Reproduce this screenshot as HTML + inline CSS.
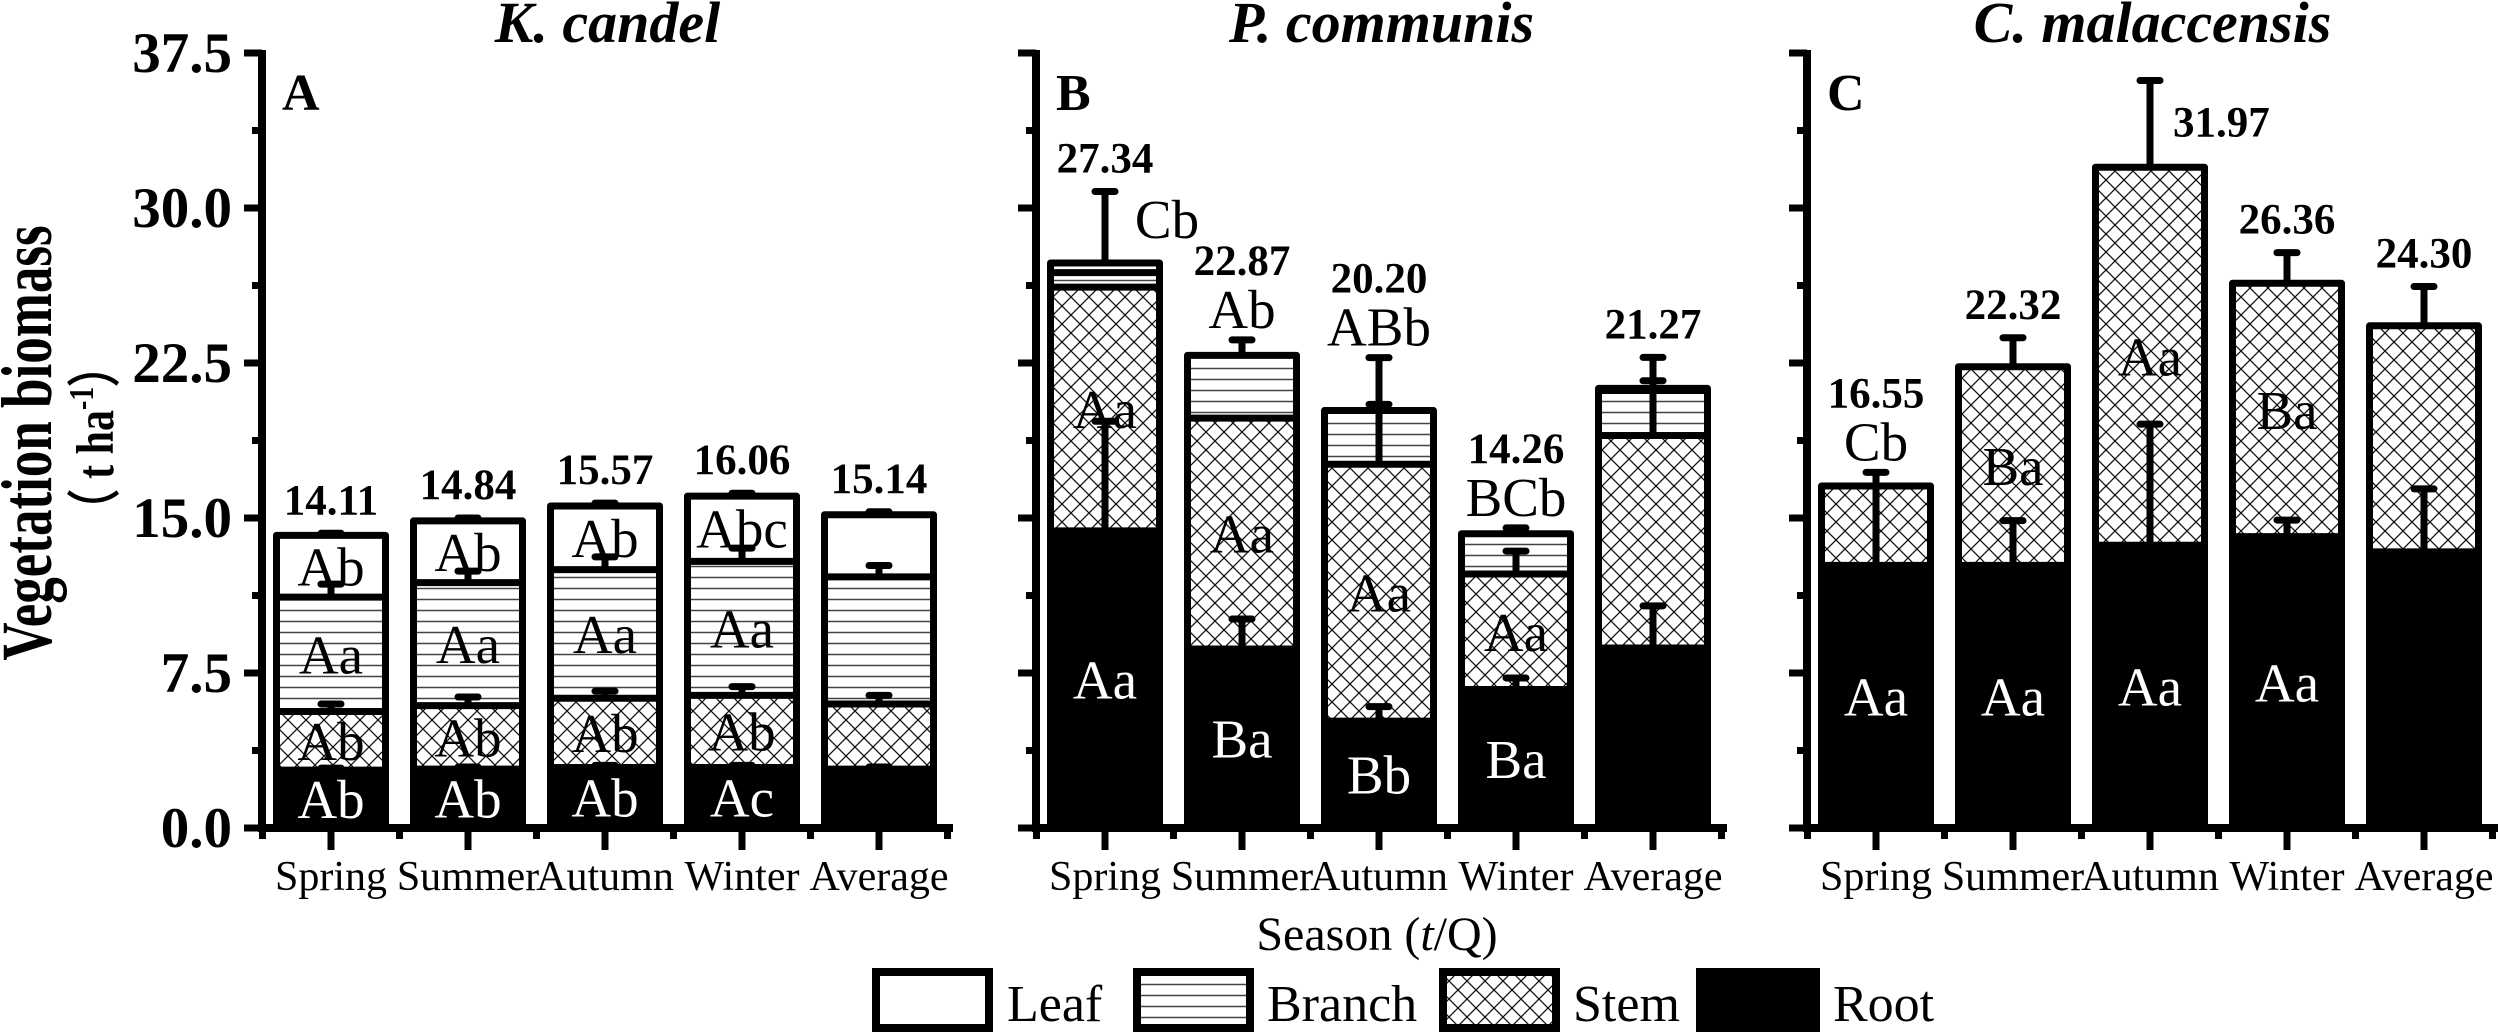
<!DOCTYPE html>
<html><head><meta charset="utf-8">
<style>
html,body{margin:0;padding:0;background:#fff;}
svg{display:block;}
text{font-family:"Liberation Serif",serif;}
</style></head>
<body>
<svg id="chart" width="2500" height="1036" viewBox="0 0 2500 1036" xmlns="http://www.w3.org/2000/svg">
<defs>
<pattern id="patBranch" patternUnits="userSpaceOnUse" width="20" height="11">
<rect width="20" height="11" fill="#fff"/>
<line x1="0" y1="5.5" x2="20" y2="5.5" stroke="#444" stroke-width="1.6"/>
</pattern>
<pattern id="patStem" patternUnits="userSpaceOnUse" width="18" height="18">
<rect width="18" height="18" fill="#fff"/>
<path d="M0,0 L18,18 M18,0 L0,18" stroke="#111" stroke-width="1.3"/>
</pattern>
</defs>
<g id="plot"></g>
</svg>
<script>
// ---- data ----
const categories = ["Spring","Summer","Autumn","Winter","Average"];
const panelTitles = ["K. candel","P. communis","C. malaccensis"];
const panelLetters = ["A","B","C"];
const yTickLabels = ["0.0","7.5","15.0","22.5","30.0","37.5"];
const yTickValues = [0,7.5,15,22.5,30,37.5];
const totalsText = [
  ["14.11","14.84","15.57","16.06","15.14"],
  ["27.34","22.87","20.20","14.26","21.27"],
  ["16.55","22.32","31.97","26.36","24.30"]
];
// segment amounts (t/ha)
const rootA = [2.8,2.85,2.93,2.93,2.85];
const stemA = [2.84,3.07,3.35,3.49,3.15];
const branchA = [5.53,5.95,6.22,6.48,6.15];
const leafA = [2.99,2.99,3.08,3.16,3.01];
const rootB = [14.38,8.66,5.17,6.7,8.71];
const stemB = [11.79,11.17,12.43,5.59,10.28];
const branchB = [0.7,3.04,2.6,1.95,2.18];
const leafB = [0.47,0,0,0,0.1];
const rootC = [12.71,12.71,13.68,14.1,13.36];
const stemC = [3.84,9.61,18.29,12.26,10.94];
const branchC = [0,0,0,0,0];
const leafC = [0,0,0,0,0];
// error bars (added above each segment top)
const errRootA = [0.1,0.1,0.1,0.1,0.1];
const errStemA = [0.36,0.42,0.34,0.42,0.42];
const errBranchA = [0.63,0.56,0.62,0.64,0.55];
const errLeafA = [0.1,0.14,0.14,0.14,0.14];
const errRootB = [5.3,1.45,0.7,0.56,2.04];
const errStemB = [0,0,2.9,1.11,2.65];
const errBranchB = [0,0,0,0,0];
const errLeafB = [3.46,0.75,2.56,0.28,1.5];
const errRootC = [4.5,2.16,5.86,0.8,3.05];
const errStemC = [0,1.4,4.2,1.48,1.9];
const errBranchC = [0,0,0,0,0];
const errLeafC = [0,0,0,0,0];
// significance letters
const rootLetters = [["Ab","Ab","Ab","Ac",""],["Aa","Ba","Bb","Ba",""],["Aa","Aa","Aa","Aa",""]];
const stemLetters = [["Ab","Ab","Ab","Ab",""],["Aa","Aa","Aa","Aa",""],["","Ba","Aa","Ba",""]];
const branchLetters = [["Aa","Aa","Aa","Aa",""],["","","","",""],["","","","",""]];
const leafLetters = [["Ab","Ab","Ab","Abc",""],["","","","",""],["","","","",""]];
const topLetters = [["","","","",""],["Cb","Ab","ABb","BCb",""],["Cb","","","",""]];

const panels = [
  {root:rootA,stem:stemA,branch:branchA,leaf:leafA,eR:errRootA,eS:errStemA,eB:errBranchA,eL:errLeafA},
  {root:rootB,stem:stemB,branch:branchB,leaf:leafB,eR:errRootB,eS:errStemB,eB:errBranchB,eL:errLeafB},
  {root:rootC,stem:stemC,branch:branchC,leaf:leafC,eR:errRootC,eS:errStemC,eB:errBranchC,eL:errLeafC}
];
// ---- layout ----
const axisX = [262,1036,1807];
const Y0 = 828, YMAX = 37.5, PXU = (828-53)/37.5;
const PITCH = 137, BARW = 109;
function yS(v){ return Y0 - v*PXU; }
function xS(p,i){ return axisX[p] + 69 + i*PITCH; }

const NS = "http://www.w3.org/2000/svg";
const root = document.getElementById('plot');
function mk(tag, attrs, parent){
  const e = document.createElementNS(NS, tag);
  for (const k in attrs) e.setAttribute(k, attrs[k]);
  (parent||root).appendChild(e);
  return e;
}
function txt(str, attrs, parent){
  const e = mk('text', attrs, parent);
  e.textContent = str;
  return e;
}

for (let p=0;p<3;p++){
  const g = mk('g',{});
  
  
  const ax = axisX[p];
  const xEnd = ax + 691;
  const t = txt(panelTitles[p],{x:(ax+xEnd)/2,y:42,'text-anchor':'middle','font-size':58,'font-weight':'bold','font-style':'italic'},g);
  
  
  const pl = txt(panelLetters[p],{x:ax+20,y:110,'font-size':52,'font-weight':'bold'},g);
  
  

  const d = panels[p];
  for (let i=0;i<categories.length;i++){
    const bg = mk('g',{},g);
    
    
    const cx = xS(p,i);
    const x0 = cx - BARW/2;
    const segs = [
      {v:d.root[i],fill:'#000',name:'root',err:d.eR[i],lab:rootLetters[p][i],col:'#fff'},
      {v:d.stem[i],fill:'url(#patStem)',name:'stem',err:d.eS[i],lab:stemLetters[p][i],col:'#000'},
      {v:d.branch[i],fill:'url(#patBranch)',name:'branch',err:d.eB[i],lab:branchLetters[p][i],col:'#000'},
      {v:d.leaf[i],fill:'#fff',name:'leaf',err:d.eL[i],lab:leafLetters[p][i],col:'#000'}
    ];
    let cum = 0;
    const tops = [];
    for (const s of segs){
      const b = cum, tp = cum + s.v;
      tops.push(tp);
      if (s.v > 0){
        const r = mk('rect',{x:x0,y:yS(tp),width:BARW,height:yS(b)-yS(tp),fill:s.fill},bg);
        
        
        if (s.name!=='root' && b>0){
          mk('line',{x1:x0,x2:x0+BARW,y1:yS(b),y2:yS(b),stroke:'#000','stroke-width':7},bg);
        }
      }
      cum = tp;
    }
    const total = cum;
    const outline = mk('rect',{x:x0,y:yS(total),width:BARW,height:Y0-yS(total),fill:'none',stroke:'#000','stroke-width':7,'stroke-linejoin':'round'},bg);
    
    
    cum = 0;
    for (const s of segs){
      if (s.lab && s.v>0){
        const my = yS(cum + s.v/2);
        const l = txt(s.lab,{x:cx,y:my+19,'text-anchor':'middle','font-size':55,fill:s.col},bg);
        
        
      }
      cum += s.v;
    }
    let capTop = total;
    for (let k=0;k<4;k++){
      const s = segs[k];
      if (s.err>0){
        const top = tops[k] + s.err;
        const eg = mk('g',{},bg);
        
        
        mk('line',{x1:cx,x2:cx,y1:yS(tops[k]),y2:yS(top),stroke:'#000','stroke-width':7},eg);
        mk('line',{x1:cx-10,x2:cx+10,y1:yS(top),y2:yS(top),stroke:'#000','stroke-width':7,'stroke-linecap':'round'},eg);
        if (top>capTop) capTop = top;
      }
    }
    const tl = topLetters[p][i];
    let numY = yS(capTop) - 19;
    let numX = cx, anchor='middle';
    if (tl){
      if (p===1 && i===0){
        const lt = txt(tl,{x:cx+62,y:yS(total)-25,'text-anchor':'middle','font-size':55},bg);
        
        
      } else {
        const lb = yS(capTop) - 12;
        const lt = txt(tl,{x:cx,y:lb,'text-anchor':'middle','font-size':55},bg);
        
        
        numY = lb - 53;
      }
    }
    if (p===2 && i===2){ numX = cx+23; anchor='start'; numY = yS(total)-31; }
    const nt = txt(totalsText[p][i],{x:numX,y:numY,'text-anchor':anchor,'font-size':43,'font-weight':'bold'},bg);
    
    
  }

  const ya = mk('line',{x1:ax,x2:ax,y1:yS(YMAX)-3,y2:Y0+4,stroke:'#000','stroke-width':8},g);
  
  
  const xa = mk('line',{x1:ax-4,x2:xEnd,y1:Y0,y2:Y0,stroke:'#000','stroke-width':8},g);
  
  
  for (let k=0;k<yTickValues.length;k++){
    const yy = yS(yTickValues[k]);
    mk('line',{x1:ax-18,x2:ax,y1:yy,y2:yy,stroke:'#000','stroke-width':7},g);
    if (k<yTickValues.length-1){
      const ym = yS((yTickValues[k]+yTickValues[k+1])/2);
      mk('line',{x1:ax-10,x2:ax,y1:ym,y2:ym,stroke:'#000','stroke-width':7},g);
    }
    if (p===0){
      const tk = txt(yTickLabels[k],{x:232,y:yy+19,'text-anchor':'end','font-size':57,'font-weight':'bold'},g);
      
      
    }
  }
  for (let i=0;i<categories.length;i++){
    const cx = xS(p,i);
    mk('line',{x1:cx,x2:cx,y1:Y0,y2:Y0+22,stroke:'#000','stroke-width':7},g);
    mk('line',{x1:cx-68.5,x2:cx-68.5,y1:Y0,y2:Y0+11,stroke:'#000','stroke-width':7},g);
    if (i===categories.length-1) mk('line',{x1:cx+68.5,x2:cx+68.5,y1:Y0,y2:Y0+11,stroke:'#000','stroke-width':7},g);
    const xl = txt(categories[i],{x:cx,y:890,'text-anchor':'middle','font-size':42},g);
    
    
  }
}
</script>
<div style="position:absolute;left:0;top:0;width:2500px;height:1036px;pointer-events:none;">
<svg width="2500" height="1036" viewBox="0 0 2500 1036" xmlns="http://www.w3.org/2000/svg">
<g transform="translate(51,443) rotate(-90) scale(1,1.35)">
<text x="0" y="0" text-anchor="middle" font-size="53" font-weight="bold" font-family="Liberation Serif, serif">Vegetation biomass</text>
</g>
<g transform="translate(113,438) rotate(-90) scale(1,1.25)">
<text x="0" y="0" text-anchor="middle" font-size="42" font-weight="bold" font-family="Liberation Serif, Noto Serif CJK SC, serif">（ t ha<tspan dy="-16" font-size="28">-1</tspan><tspan dy="16">）</tspan></text>
</g>
<text x="1377" y="950" text-anchor="middle" font-size="48" font-family="Liberation Serif, serif">Season (<tspan font-style="italic">t</tspan>/Q)</text>
<g>
<g>
<rect x="876" y="972" width="113" height="56" fill="#fff" stroke="#000" stroke-width="8"/>
<text x="1007" y="1021" font-size="52" font-family="Liberation Serif, serif">Leaf</text>
</g>
<g>
<rect x="1137" y="972" width="113" height="56" fill="url(#patBranch)" stroke="#000" stroke-width="8"/>
<text x="1267" y="1021" font-size="52" font-family="Liberation Serif, serif">Branch</text>
</g>
<g>
<rect x="1443" y="972" width="113" height="56" fill="url(#patStem)" stroke="#000" stroke-width="8"/>
<text x="1573" y="1021" font-size="52" font-family="Liberation Serif, serif">Stem</text>
</g>
<g>
<rect x="1700" y="972" width="116" height="56" fill="#000" stroke="#000" stroke-width="8"/>
<text x="1833" y="1021" font-size="52" font-family="Liberation Serif, serif">Root</text>
</g>
</g>
</svg>
</div>
</body></html>
